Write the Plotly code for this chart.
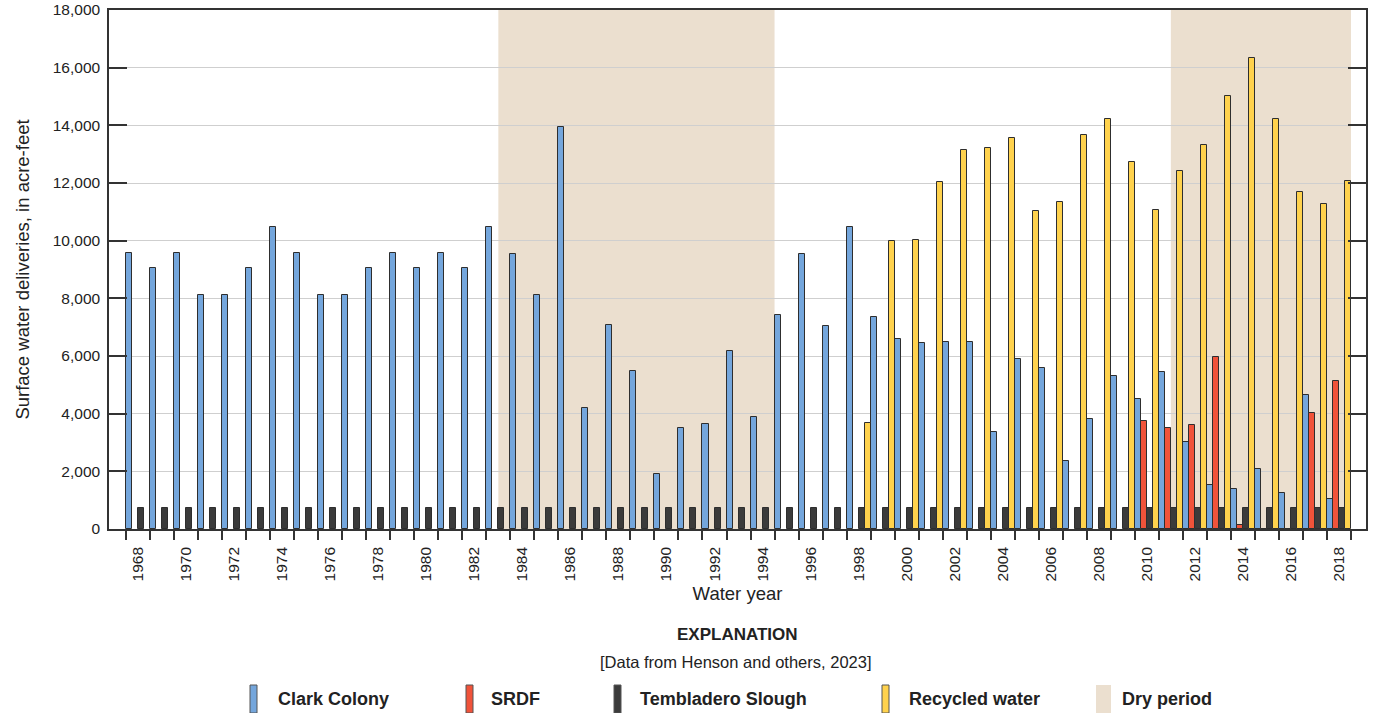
import plotly.graph_objects as go

# Water years shown on the chart
years = [1968, 1969, 1970, 1971, 1972, 1973, 1974, 1975, 1976, 1977,
         1978, 1979, 1980, 1981, 1982, 1983, 1984, 1985, 1986, 1987,
         1988, 1989, 1990, 1991, 1992, 1993, 1994, 1995, 1996, 1997,
         1998, 1999, 2000, 2001, 2002, 2003, 2004, 2005, 2006, 2007,
         2008, 2009, 2010, 2011, 2012, 2013, 2014, 2015, 2016, 2017,
         2018]

year_labels = [1968, 1970, 1972, 1974, 1976, 1978, 1980, 1982, 1984, 1986,
               1988, 1990, 1992, 1994, 1996, 1998, 2000, 2002, 2004, 2006,
               2008, 2010, 2012, 2014, 2016, 2018]

# Surface water deliveries, acre-feet
clark_colony = [9560, 9050, 9560, 8130, 8130, 9050, 10460, 9560, 8130, 8130,
                9050, 9560, 9050, 9560, 9050, 10460, 9550, 8130, 13930, 4180,
                7090, 5490, 1900, 3490, 3640, 6170, 3880, 7420, 9550, 7040,
                10480, 7350, 6600, 6450, 6470, 6500, 3350, 5880, 5580, 2350,
                3810, 5290, 4500, 5440, 3010, 1520, 1380, 2090, 1260, 4660,
                1030]

srdf = [None, None, None, None, None, None, None, None, None, None,
        None, None, None, None, None, None, None, None, None, None,
        None, None, None, None, None, None, None, None, None, None,
        None, None, None, None, None, None, None, None, None, None,
        None, None, 3750, 3500, 3595, 5950, 130, 0, 0, 4030,
        5130]

tembladero_slough = [740, 740, 740, 740, 740, 740, 740, 740, 740, 740,
                     740, 740, 740, 740, 740, 740, 740, 740, 740, 740,
                     740, 740, 740, 740, 740, 740, 740, 740, 740, 740,
                     740, 740, 740, 740, 740, 740, 740, 740, 740, 740,
                     740, 740, 740, 740, 740, 740, 740, 740, 740, 740,
                     740]

recycled_water = [None, None, None, None, None, None, None, None, None, None,
                  None, None, None, None, None, None, None, None, None, None,
                  None, None, None, None, None, None, None, None, None, None,
                  3660, 9975, 10040, 12050, 13160, 13220, 13565, 11025, 11350, 13655,
                  14205, 12720, 11080, 12400, 13335, 15010, 16350, 14235, 11680, 11265,
                  12085]

# Dry periods (water-year coordinates)
dry_start = [1983, 2011]
dry_end = [1994.5, 2018.5]

# Style
BLUE = "#74A6DC"
RED = "#F0533A"
DARK = "#3B3B3B"
YELLOW = "#FFD24D"
DRY = "#EBDFCF"
EDGE = "#2E2E2E"
AXIS = "#333333"
GRID = "#CFCFCF"
TEXT = "#222222"

FONT = "Liberation Sans, Arial, sans-serif"

W, H = 1373, 713
ML, MR, MT, MB = 109, 7, 10, 184
PW = W - ML - MR
PH = H - MT - MB


def px_x(px):
    """Horizontal pixel position -> paper coordinate."""
    return (px - ML) / PW


def px_y(py):
    """Vertical pixel position (from top) -> paper coordinate."""
    return (H - MB - py) / PH


fig = go.Figure()
series = [
    ("Clark Colony", clark_colony, BLUE),
    ("SRDF", srdf, RED),
    ("Tembladero Slough", tembladero_slough, DARK),
    ("Recycled water", recycled_water, YELLOW),
]
for name, values, color in series:
    fig.add_trace(go.Bar(
        x=years, y=values, name=name,
        marker=dict(color=color, line=dict(color=EDGE, width=1)),
        showlegend=False,
    ))

# Shaded dry periods behind the bars and grid
for x0, x1 in zip(dry_start, dry_end):
    fig.add_shape(type="rect", xref="x", yref="paper", x0=x0, x1=x1, y0=0, y1=1,
                  fillcolor=DRY, line=dict(width=0), layer="below")

x_range = [1966.79, 2019.125]
boundaries = [y - 0.5 for y in years] + [years[-1] + 0.5]

fig.update_layout(
    width=W, height=H,
    margin=dict(l=ML, r=MR, t=MT, b=MB, autoexpand=False),
    paper_bgcolor="white", plot_bgcolor="rgba(0,0,0,0)",
    barmode="group", bargap=0, bargroupgap=0,
    font=dict(family=FONT, color=TEXT),
    xaxis=dict(
        range=x_range, tickmode="array", tickvals=year_labels,
        ticktext=[str(v) for v in year_labels],
        ticks="outside", ticklen=0, tickangle=-90, ticklabelstandoff=10,
        tickfont=dict(family=FONT, size=15.5, color=TEXT),
        minor=dict(tickmode="array", tickvals=boundaries, ticks="outside",
                   ticklen=9, tickwidth=1.5, tickcolor=AXIS, showgrid=False),
        showgrid=False, zeroline=False,
        showline=True, linecolor=AXIS, linewidth=1.5, mirror=True,
        title=dict(text="Water year", standoff=7,
                   font=dict(family=FONT, size=18.5, color=TEXT)),
    ),
    xaxis2=dict(
        range=x_range, overlaying="x", side="top", anchor="y",
        tickmode="array", tickvals=boundaries, ticks="inside", ticklen=18,
        tickwidth=1.5, tickcolor=AXIS, showticklabels=False,
        showgrid=False, zeroline=False, showline=False,
    ),
    yaxis=dict(
        range=[0, 18000], tickmode="linear", tick0=0, dtick=2000,
        tickformat=",d", ticks="inside", ticklen=18, tickwidth=1.5,
        tickcolor=AXIS, ticklabelstandoff=4,
        tickfont=dict(family=FONT, size=15.5, color=TEXT),
        showgrid=True, gridcolor=GRID, gridwidth=1.3, zeroline=False,
        showline=True, linecolor=AXIS, linewidth=1.5, mirror="ticks",
        title=dict(text="Surface water deliveries, in acre-feet", standoff=18,
                   font=dict(family=FONT, size=18.5, color=TEXT)),
    ),
)

# Explanation block below the chart
annotations = [
    dict(text="<b>EXPLANATION</b>", x=px_x(737), y=px_y(634),
         font=dict(family=FONT, size=17, color=TEXT)),
    dict(text="[Data from Henson and others, 2023]", x=px_x(736), y=px_y(662),
         font=dict(family=FONT, size=16.5, color=TEXT)),
]
legend_items = [
    ("Clark Colony", BLUE, 250, 257, 276, True),
    ("SRDF", RED, 466, 473, 489, True),
    ("Tembladero Slough", DARK, 614, 621, 638, True),
    ("Recycled water", YELLOW, 882, 889, 907, True),
    ("Dry period", DRY, 1096, 1111, 1120, False),
]
for label, color, s0, s1, tx, outlined in legend_items:
    fig.add_shape(type="rect", xref="paper", yref="paper",
                  x0=px_x(s0), x1=px_x(s1), y0=px_y(713), y1=px_y(685),
                  fillcolor=color,
                  line=dict(color="#555555" if outlined else color,
                            width=1 if outlined else 0))
    annotations.append(dict(text=f"<b>{label}</b>", x=px_x(tx), y=px_y(699),
                            xanchor="left",
                            font=dict(family=FONT, size=18, color=TEXT)))

for a in annotations:
    a.setdefault("xanchor", "center")
    a.update(xref="paper", yref="paper", yanchor="middle", showarrow=False)
fig.update_layout(annotations=annotations)

fig.write_html("out.html")
